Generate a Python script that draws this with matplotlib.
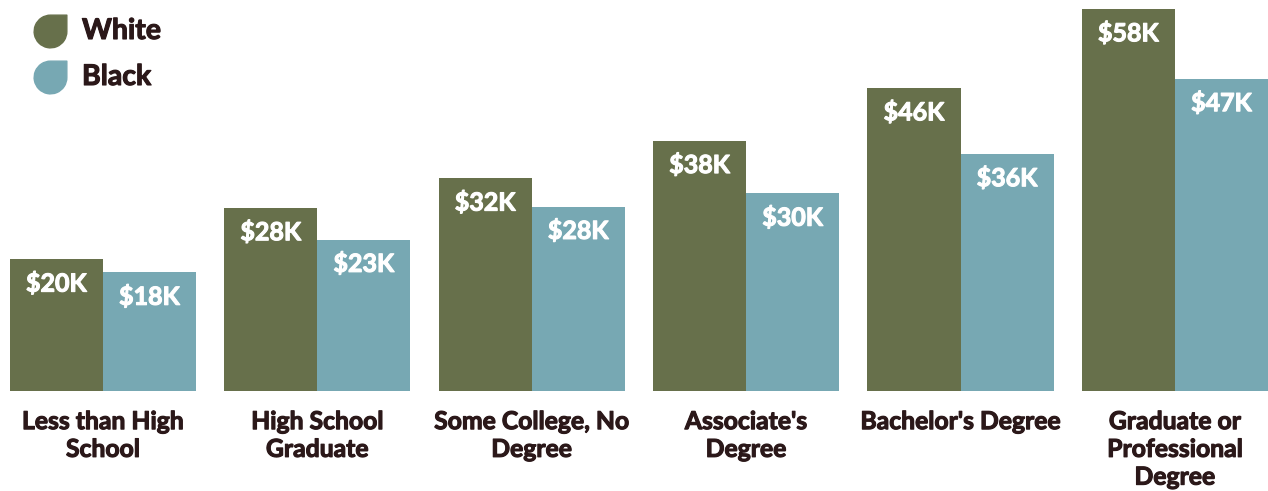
import matplotlib

matplotlib.use("Agg")
import numpy as np
from matplotlib import pyplot as plt
from matplotlib import patheffects as pe
from matplotlib.path import Path

categories = [
    "Less than High\nSchool",
    "High School\nGraduate",
    "Some College, No\nDegree",
    "Associate's\nDegree",
    "Bachelor's Degree",
    "Graduate or\nProfessional\nDegree",
]
white = [20.0, 27.8, 32.3, 38.0, 46.0, 58.0]
black = [18.0, 23.0, 28.0, 30.0, 36.0, 47.4]
white_labels = ["\\$20K", "\\$28K", "\\$32K", "\\$38K", "\\$46K", "\\$58K"]
black_labels = ["\\$18K", "\\$23K", "\\$28K", "\\$30K", "\\$36K", "\\$47K"]

WHITE_C = "#67704b"
BLACK_C = "#77a8b3"
TEXT_C = "#2b1819"

plt.rcParams["font.family"] = ["Lato", "DejaVu Sans"]

# slightly heavier strokes to mimic the heavy display face
heavy_w = [pe.withStroke(linewidth=0.8, foreground="white")]
heavy_d = [pe.withStroke(linewidth=0.8, foreground=TEXT_C)]

fig = plt.figure(figsize=(12.68, 4.91), dpi=100)
ax = fig.add_axes([0, 0, 1, 1])
ax.set_axis_off()

x = np.arange(len(categories))
w = 0.434
ax.bar(x - w / 2, white, w, color=WHITE_C)
ax.bar(x + w / 2, black, w, color=BLACK_C)
ax.set_xlim(-0.480, 5.434)
ax.set_ylim(-15.18, 59.37)

for xi, v, lab in zip(x - w / 2, white, white_labels):
    ax.annotate(lab, (xi, v), xytext=(0, -17.5), textcoords="offset points",
                ha="center", va="center", color="white", fontsize=18,
                fontweight="bold", path_effects=heavy_w)
for xi, v, lab in zip(x + w / 2, black, black_labels):
    ax.annotate(lab, (xi, v), xytext=(0, -17.5), textcoords="offset points",
                ha="center", va="center", color="white", fontsize=18,
                fontweight="bold", path_effects=heavy_w)

for xi, cat in zip(x, categories):
    ax.text(xi, -2.9, cat, ha="center", va="top", color=TEXT_C, fontsize=17.8,
            fontweight="bold", linespacing=1.25, path_effects=heavy_d)

# leaf-shaped legend markers
arc = Path.arc(90, 360)
verts = np.vstack([arc.vertices, [[1, 1], [0, 1]]])
codes = list(arc.codes) + [Path.LINETO, Path.CLOSEPOLY]
leaf = Path(verts, codes)

for row, (name, col) in enumerate([("White", WHITE_C), ("Black", BLACK_C)]):
    yp = 1 - (31 + row * 46) / 491
    ax.scatter([50 / 1268], [yp], marker=leaf, s=24 ** 2, color=col,
               transform=ax.transAxes, clip_on=False)
    ax.text(82 / 1268, yp, name, transform=ax.transAxes, ha="left", va="center",
            color=TEXT_C, fontsize=20.5, fontweight="bold", path_effects=heavy_d)

fig.savefig("out.png", dpi=100)
